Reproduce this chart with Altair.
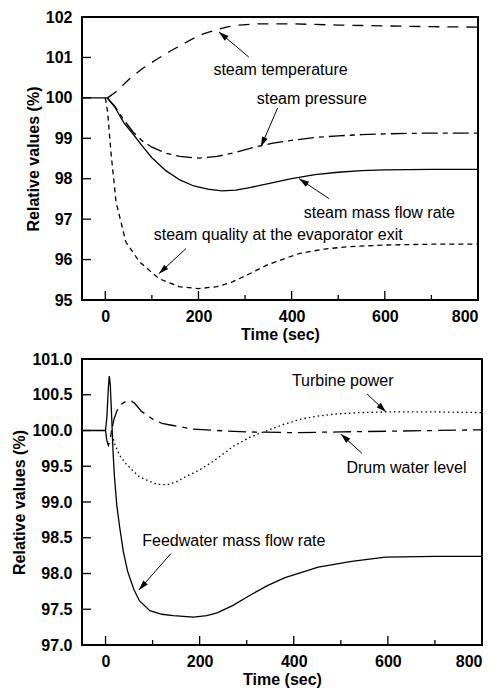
import math
import altair as alt
import pandas as pd

FONT = "Liberation Sans"

# ---------------- top panel data ----------------
mass_t = [-50, 4, 20, 40, 60, 80, 100, 130, 160, 190, 220, 250, 280, 310, 350, 400, 450, 500, 550, 600, 700, 800]
mass_v = [100, 100, 99.78, 99.38, 99.1, 98.8, 98.52, 98.2, 97.97, 97.82, 97.74, 97.7, 97.72, 97.78, 97.88, 98.0, 98.1, 98.16, 98.2, 98.22, 98.23, 98.23]

pres_t = [4, 20, 40, 60, 80, 100, 130, 160, 200, 240, 280, 320, 360, 400, 450, 500, 550, 600, 700, 800]
pres_v = [100, 99.8, 99.45, 99.15, 98.93, 98.78, 98.63, 98.55, 98.51, 98.55, 98.65, 98.78, 98.88, 98.95, 99.02, 99.06, 99.09, 99.11, 99.13, 99.13]

qual_t = [0, 5, 12, 23, 44, 73, 115, 158, 200, 240, 273, 310, 350, 416, 470, 523, 600, 700, 800]
qual_v = [100, 99.65, 98.67, 97.43, 96.44, 95.95, 95.53, 95.33, 95.28, 95.33, 95.45, 95.65, 95.88, 96.15, 96.26, 96.32, 96.36, 96.38, 96.38]

temp_t = [5, 23, 50, 79, 110, 137, 165, 187, 210, 237, 260, 287, 330, 400, 500, 600, 700, 800]
temp_v = [100, 100.15, 100.45, 100.72, 100.95, 101.14, 101.32, 101.46, 101.58, 101.68, 101.75, 101.8, 101.83, 101.83, 101.8, 101.78, 101.76, 101.75]

top_yticks = [95, 96, 97, 98, 99, 100, 101, 102]
x_major = [0, 200, 400, 600, 800]
x_minor = [100, 300, 500, 700]

top_labels = ["steam temperature", "steam pressure", "steam mass flow rate",
              "steam quality at the evaporator exit"]
top_label_t = [232, 325, 426, 104]
top_label_v = [100.68, 99.97, 97.15, 96.62]
top_arrow_t0 = [308, 370, 480, 173]
top_arrow_v0 = [101.01, 99.75, 97.51, 96.27]
top_arrow_t1 = [244, 334, 416, 115]
top_arrow_v1 = [101.63, 98.79, 98.0, 95.65]

# ---------------- bottom panel data ----------------
feed_t = [-50, 0, 3, 6, 8, 10, 13, 16, 19, 24, 30, 38, 47, 60, 72, 94, 120, 144, 187, 215, 237, 270, 308, 344, 380, 452, 523, 595, 700, 800]
feed_v = [100, 100, 100.2, 100.6, 100.76, 100.65, 100.2, 99.7, 99.35, 98.95, 98.65, 98.3, 98.03, 97.78, 97.62, 97.48, 97.43, 97.41, 97.39, 97.41, 97.45, 97.55, 97.7, 97.83, 97.94, 98.09, 98.17, 98.23, 98.24, 98.24]

drum_t = [0, 3, 6, 9, 13, 18, 24, 29, 36, 44, 55, 62, 76, 100, 120, 143, 186, 236, 300, 400, 500, 600, 700, 800]
drum_v = [100, 99.85, 99.79, 99.85, 100.0, 100.16, 100.27, 100.33, 100.38, 100.41, 100.41, 100.38, 100.27, 100.16, 100.1, 100.07, 100.02, 100.0, 99.98, 99.97, 99.98, 99.99, 100.0, 100.01]

turb_t = [12, 20, 30, 44, 72, 108, 130, 150, 172, 200, 229, 272, 308, 344, 380, 416, 450, 487, 540, 594, 700, 800]
turb_v = [100, 99.8, 99.65, 99.53, 99.35, 99.25, 99.24, 99.28, 99.36, 99.45, 99.57, 99.78, 99.91, 100.0, 100.09, 100.16, 100.2, 100.23, 100.25, 100.26, 100.26, 100.25]

bot_yticks = [97.0, 97.5, 98.0, 98.5, 99.0, 99.5, 100.0, 100.5, 101.0]

bot_labels = ["Turbine power", "Drum water level", "Feedwater mass flow rate"]
bot_label_t = [396, 512, 78]
bot_label_v = [100.69, 99.48, 98.45]
bot_arrow_t0 = [556, 545, 139]
bot_arrow_v0 = [100.51, 99.68, 98.28]
bot_arrow_t1 = [596, 500, 71]
bot_arrow_v1 = [100.26, 99.95, 97.77]

ARROW_PATH = "M0,0L0.75,2.5L-0.75,2.5Z"


def panel(width, height, ydom, yticks, yfmt, series, labels, lt, lv, at0, av0, at1, av1):
    xs = alt.Scale(domain=[-50, 800], nice=False, zero=False)
    ys = alt.Scale(domain=ydom, nice=False, zero=False)
    common = dict(labelFont=FONT, labelFontSize=16, labelFontWeight="bold", labelColor="black",
                  titleFont=FONT, titleFontSize=16, titleFontWeight="bold", titleColor="black",
                  ticks=False, domain=False, grid=False)
    xaxis = alt.Axis(values=x_major, labelPadding=8, title="Time (sec)", titlePadding=2, **common)
    yaxis = alt.Axis(values=yticks, format=yfmt, labelPadding=10, title="Relative values (%)",
                     titlePadding=4, **common)

    def X(f):
        return alt.X(f, type="quantitative", scale=xs, axis=xaxis)

    def Y(f):
        return alt.Y(f, type="quantitative", scale=ys, axis=yaxis)

    layers = []
    for t, v, dash in series:
        df = pd.DataFrame({"t": t, "v": v})
        kw = dict(color="black", strokeWidth=1.3, clip=True)
        if dash:
            kw["strokeDash"] = dash
        layers.append(alt.Chart(df).mark_line(**kw).encode(x=X("t"), y=Y("v"), order="t:Q"))

    # inward ticks
    ydf = pd.DataFrame({"v": yticks})
    layers.append(alt.Chart(ydf).mark_rule(color="black", strokeWidth=1.3).encode(
        y=Y("v"), x=alt.value(0), x2=alt.value(9)))
    xmaj = pd.DataFrame({"t": x_major[:-1]})
    layers.append(alt.Chart(xmaj).mark_rule(color="black", strokeWidth=1.3).encode(
        x=X("t"), y=alt.value(height), y2=alt.value(height - 9)))
    xmin = pd.DataFrame({"t": x_minor})
    layers.append(alt.Chart(xmin).mark_rule(color="black", strokeWidth=1.3).encode(
        x=X("t"), y=alt.value(height), y2=alt.value(height - 5)))

    # annotations
    pxu = width / 850.0
    pyu = height / (ydom[1] - ydom[0])
    ang = []
    for a, b, c, d in zip(at0, av0, at1, av1):
        dx = (c - a) * pxu
        dy = -(d - b) * pyu
        ang.append(math.degrees(math.atan2(dx, -dy)) % 360)
    adf = pd.DataFrame({"t0": at0, "v0": av0, "t1": at1, "v1": av1, "ang": ang})
    layers.append(alt.Chart(adf).mark_rule(color="black", strokeWidth=1).encode(
        x=X("t0"), y=Y("v0"), x2="t1:Q", y2="v1:Q"))
    layers.append(alt.Chart(adf).mark_point(shape=ARROW_PATH, filled=True, color="black",
                                            size=64, opacity=1).encode(
        x=X("t1"), y=Y("v1"), angle=alt.Angle("ang:Q", scale=None)))
    ldf = pd.DataFrame({"txt": labels, "t": lt, "v": lv})
    layers.append(alt.Chart(ldf).mark_text(align="left", baseline="middle", font=FONT,
                                           fontSize=16, color="black").encode(
        x=X("t"), y=Y("v"), text="txt:N"))

    return alt.layer(*layers).properties(width=width, height=height)


top = panel(396, 283, [95, 102], top_yticks, "d",
            [(mass_t, mass_v, None), (pres_t, pres_v, [16, 5, 5, 5]),
             (qual_t, qual_v, [5, 4]), (temp_t, temp_v, [11, 8])],
            top_labels, top_label_t, top_label_v, top_arrow_t0, top_arrow_v0, top_arrow_t1, top_arrow_v1)

bottom = panel(400, 286, [97, 101], bot_yticks, ".1f",
               [(feed_t, feed_v, None), (drum_t, drum_v, [18, 6, 5, 6]),
                (turb_t, turb_v, [1.5, 3])],
               bot_labels, bot_label_t, bot_label_v, bot_arrow_t0, bot_arrow_v0, bot_arrow_t1, bot_arrow_v1)

chart = alt.vconcat(top, bottom, spacing=7).properties(
    padding={"left": 2, "top": 0, "right": 5, "bottom": 0},
    background="white"
).configure_view(stroke="black", strokeWidth=2)

chart.save("out.html", embed_options={"renderer": "svg", "actions": False})
